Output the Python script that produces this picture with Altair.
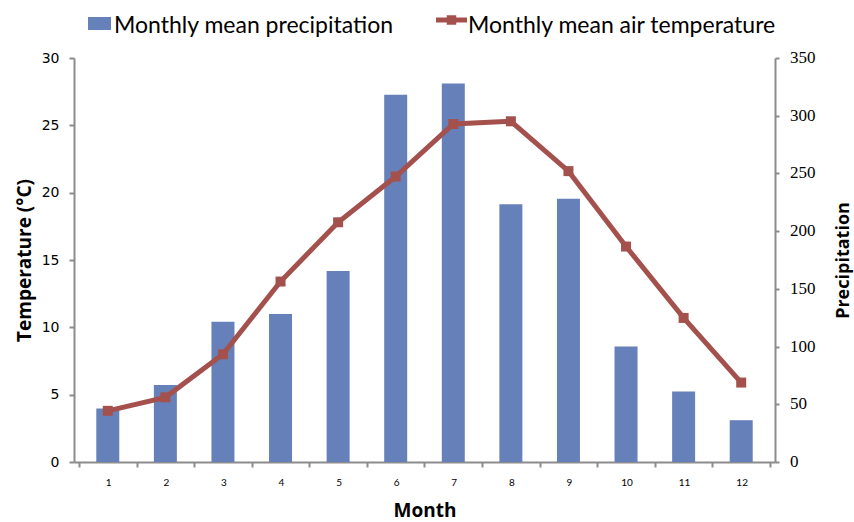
import altair as alt
import pandas as pd

months = list(range(1, 13))
precipitation = [46.3, 66.6, 121.5, 128.2, 165.5, 318.2, 328.0, 223.4, 228.0, 100.1, 61.1, 36.2]
temperature = [3.8, 4.8, 8.0, 13.4, 17.8, 21.2, 25.1, 25.3, 21.6, 16.0, 10.7, 5.9]
x_tick_values = [m - 0.5 for m in months] + [12.5]
precip_ticks = [0, 50, 100, 150, 200, 250, 300, 350]
temp_ticks = [0, 5, 10, 15, 20, 25, 30]
legend_labels = ["Monthly mean precipitation", "Monthly mean air temperature"]

BAR = "#6680BA"
LINE = "#A4514E"
AXIS = "#8C8C8C"

df = pd.DataFrame({"month": months, "precip": precipitation, "temp": temperature})

W, H = 701, 404
step = W / 12

x_enc = alt.X(
    "month:Q",
    scale=alt.Scale(domain=[0.5, 12.5], nice=False, zero=False),
    axis=alt.Axis(
        values=x_tick_values,
        labelExpr="datum.value < 12 ? '' + (datum.value + 0.5) : ''",
        labelOffset=step / 2,
        labelFlush=False,
        labelOverlap=False,
        grid=False,
        tickSize=5,
        tickWidth=2,
        tickColor=AXIS,
        domainColor=AXIS,
        domainWidth=2,
        labelFont="Lato",
        labelFontSize=10,
        labelColor="#000000",
        labelPadding=10,
        title="Month",
        titleFont="Open Sans",
        titleFontSize=19,
        titleFontWeight="bold",
        titleColor="#000000",
        titleX=W / 2,
        titleY=54,
        titleAlign="center",
        titleBaseline="alphabetic",
    ),
)

bars = alt.Chart(df).mark_bar(size=23, color=BAR).encode(
    x=x_enc,
    y=alt.Y(
        "precip:Q",
        scale=alt.Scale(domain=[0, 350], nice=False),
        axis=alt.Axis(
            orient="right",
            values=precip_ticks,
            labels=False,
            grid=False,
            tickSize=4,
            tickWidth=2,
            tickColor=AXIS,
            domainColor=AXIS,
            domainWidth=2,
            title="Precipitation",
            titleFont="Open Sans",
            titleFontSize=18,
            titleFontWeight="bold",
            titleColor="#000000",
            titleAngle=270,
            titleX=68,
            titleY=H / 2,
            titleAlign="center",
            titleBaseline="middle",
        ),
    ),
)

line = alt.Chart(df).mark_line(
    color=LINE,
    strokeWidth=5,
    point=alt.OverlayMarkDef(shape="square", filled=True, size=100, color=LINE, opacity=1),
).encode(
    x=x_enc,
    y=alt.Y(
        "temp:Q",
        scale=alt.Scale(domain=[0, 30], nice=False),
        axis=alt.Axis(
            orient="left",
            values=temp_ticks,
            grid=False,
            tickSize=5,
            tickWidth=2,
            tickColor=AXIS,
            domainColor=AXIS,
            domainWidth=2,
            labelFont="DejaVu Sans",
            labelFontSize=14,
            labelColor="#000000",
            labelPadding=10,
            title="Temperature (°C)",
            titleFont="Open Sans",
            titleFontSize=19,
            titleFontWeight="bold",
            titleColor="#000000",
            titleAngle=270,
            titleX=-50,
            titleY=H / 2,
            titleAlign="center",
            titleBaseline="middle",
        ),
    ),
)

rlab = alt.Chart(pd.DataFrame({"v": precip_ticks})).mark_text(
    align="left", baseline="middle", font="Liberation Serif", fontSize=17, color="#000000"
).encode(
    y=alt.Y("v:Q", scale=alt.Scale(domain=[0, 350], nice=False), axis=None),
    x=alt.value(W + 15),
    text=alt.Text("v:Q", format="d"),
)

leg_df = pd.DataFrame({"label": legend_labels})

leg_rect = alt.Chart(leg_df).transform_filter(alt.datum.label == legend_labels[0]).mark_rect(color=BAR).encode(
    x=alt.value(14), x2=alt.value(37), y=alt.value(-41), y2=alt.value(-28)
)
leg_text1 = alt.Chart(leg_df).transform_filter(alt.datum.label == legend_labels[0]).mark_text(
    align="left", baseline="alphabetic", font="Lato", fontSize=23, color="#000000"
).encode(x=alt.value(40), y=alt.value(-25), text="label:N")
leg_line = alt.Chart(leg_df).transform_filter(alt.datum.label == legend_labels[1]).mark_rule(
    color=LINE, strokeWidth=5
).encode(x=alt.value(362), x2=alt.value(393), y=alt.value(-38))
leg_pt = alt.Chart(leg_df).transform_filter(alt.datum.label == legend_labels[1]).mark_point(
    shape="square", filled=True, size=90, color=LINE, opacity=1
).encode(x=alt.value(377.5), y=alt.value(-38))
leg_text2 = alt.Chart(leg_df).transform_filter(alt.datum.label == legend_labels[1]).mark_text(
    align="left", baseline="alphabetic", font="Lato", fontSize=23, color="#000000"
).encode(x=alt.value(394), y=alt.value(-25), text="label:N")

chart = (
    alt.layer(bars, line, rlab, leg_rect, leg_text1, leg_line, leg_pt, leg_text2)
    .resolve_scale(y="independent")
    .properties(
        width=W,
        height=H,
        autosize=alt.AutoSizeParams(type="none"),
        padding={"left": 74, "top": 58, "right": 854 - 74 - W, "bottom": 522 - 58 - H},
        background="white",
    )
    .configure_view(stroke=None)
)

chart.save("out.html", embed_options={"renderer": "svg", "actions": False})
